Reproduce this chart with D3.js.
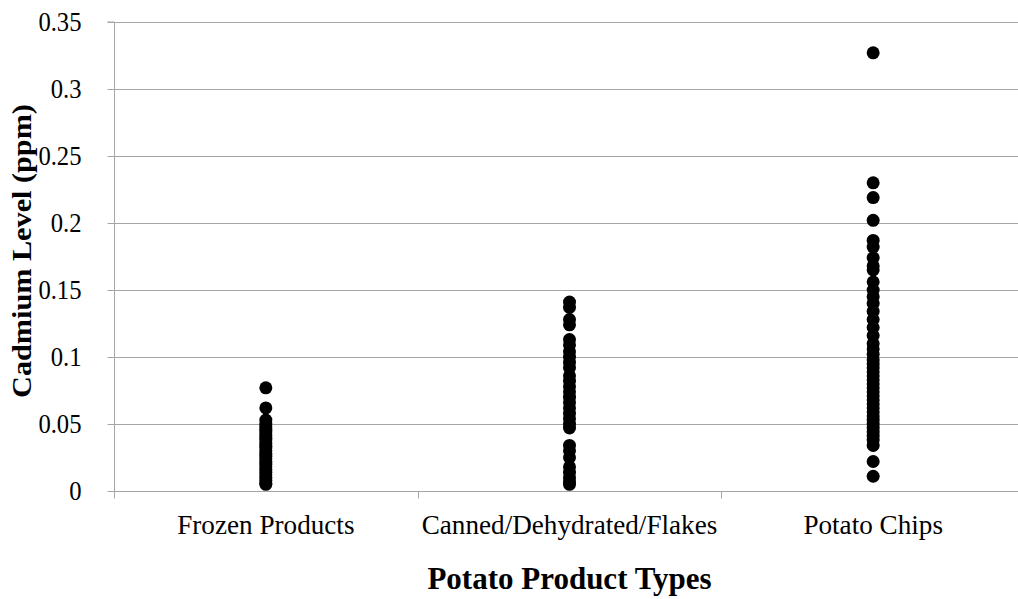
<!DOCTYPE html>
<html>
<head>
<meta charset="utf-8">
<script src="https://cdn.jsdelivr.net/npm/d3@7"></script>
<style>
  html, body { margin: 0; padding: 0; background: #fff; }
  svg { display: block; }
  text { font-family: "Liberation Serif", "Times New Roman", serif; fill: #000; }
</style>
</head>
<body>
<svg id="chart" width="1018" height="599"></svg>
<script>
// Product categories along the x axis
const categories = ["Frozen Products", "Canned/Dehydrated/Flakes", "Potato Chips"];

// Cadmium measurements (ppm) per category
const frozenValues = [0.077, 0.062, 0.053, 0.050, 0.048, 0.046, 0.044, 0.042, 0.040, 0.038,
  0.036, 0.034, 0.032, 0.030, 0.028, 0.026, 0.024, 0.022, 0.020, 0.018, 0.016, 0.014,
  0.012, 0.010, 0.008, 0.006, 0.005];
const cannedValues = [0.141, 0.137, 0.128, 0.124, 0.113, 0.109, 0.104, 0.100, 0.096, 0.092,
  0.086, 0.082, 0.078, 0.074, 0.070, 0.066, 0.062, 0.058, 0.054, 0.050, 0.047, 0.034,
  0.030, 0.025, 0.018, 0.014, 0.010, 0.007, 0.005];
const chipsValues = [0.327, 0.230, 0.219, 0.202, 0.187, 0.182, 0.174, 0.168, 0.165, 0.156,
  0.150, 0.145, 0.140, 0.134, 0.128, 0.122, 0.116, 0.110, 0.106, 0.102, 0.098, 0.095,
  0.092, 0.089, 0.086, 0.083, 0.080, 0.077, 0.074, 0.071, 0.068, 0.065, 0.062, 0.059,
  0.056, 0.053, 0.050, 0.047, 0.044, 0.041, 0.038, 0.034, 0.022, 0.011];

// Y axis tick values and labels
const yTicks = [0, 0.05, 0.1, 0.15, 0.2, 0.25, 0.3, 0.35];
const yTickLabels = ["0", "0.05", "0.1", "0.15", "0.2", "0.25", "0.3", "0.35"];

const seriesValues = [frozenValues, cannedValues, chipsValues];

const svg = d3.select("#chart");
const margin = { left: 114, top: 22, right: -7, bottom: 108 };
const W = 1018, H = 599;
const x0 = margin.left, x1 = W - margin.right;
const y0 = H - margin.bottom, y1 = margin.top;

const x = d3.scaleBand().domain(categories).range([x0, x1]).paddingInner(0).paddingOuter(0);
const y = d3.scaleLinear().domain([0, 0.35]).range([y0, y1]);

const gridColor = "#a6a6a6";
const labelFont = "'Liberation Serif', 'Times New Roman', serif";

// Horizontal gridlines
svg.append("g")
  .selectAll("line")
  .data(yTicks.filter(d => d > 0))
  .join("line")
  .attr("x1", x0).attr("x2", x1)
  .attr("y1", d => Math.round(y(d)) + 0.5).attr("y2", d => Math.round(y(d)) + 0.5)
  .attr("stroke", gridColor).attr("stroke-width", 1);

// Y axis
const yScaleX = 0.88;
const yAxis = d3.axisLeft(y)
  .tickValues(yTicks)
  .tickFormat((d, i) => yTickLabels[i])
  .tickSize(7)
  .tickPadding(26);
const gy = svg.append("g")
  .attr("transform", `translate(${x0 + 0.5},0)`)
  .call(yAxis)
  .attr("font-family", null)
  .attr("font-size", null);
gy.select(".domain").attr("stroke", gridColor).attr("d", `M-7,${y1}H0V${y0}`);
gy.selectAll(".tick line").attr("stroke", gridColor);
gy.selectAll(".tick text")
  .style("font-family", labelFont)
  .style("font-size", "28px")
  .attr("transform", `scale(${yScaleX},1)`)
  .attr("x", -(26 + 7) / yScaleX)
  .attr("fill", "#000");

// X axis with ticks at category boundaries
const xAxis = d3.axisBottom(x).tickSize(0).tickPadding(23);
const gx = svg.append("g")
  .attr("transform", `translate(0,${Math.round(y0) + 0.5})`)
  .call(xAxis)
  .attr("font-family", null)
  .attr("font-size", null);
gx.select(".domain").attr("stroke", gridColor).attr("d", `M${x0},0H${x1}`);
gx.selectAll(".tick text")
  .style("font-family", labelFont)
  .style("font-size", "28px")
  .attr("transform", "scale(0.97,1)")
  .attr("fill", "#000");
gx.append("g")
  .selectAll("line")
  .data(categories)
  .join("line")
  .attr("x1", d => Math.round(x(d)) + 0.5).attr("x2", d => Math.round(x(d)) + 0.5)
  .attr("y1", 0).attr("y2", 7)
  .attr("stroke", gridColor);

// Data points
const points = [];
seriesValues.forEach((vals, i) => vals.forEach(v => points.push({ cat: categories[i], v })));
svg.append("g")
  .selectAll("circle")
  .data(points)
  .join("circle")
  .attr("cx", d => x(d.cat) + x.bandwidth() / 2)
  .attr("cy", d => y(d.v))
  .attr("r", 6.5)
  .attr("fill", "#000");

// Axis titles
svg.append("text")
  .attr("transform", `translate(${(x0 + x1) / 2},589)`)
  .attr("text-anchor", "middle")
  .style("font-family", labelFont)
  .style("font-size", "31px")
  .style("font-weight", "bold")
  .text("Potato Product Types");

svg.append("text")
  .attr("transform", `translate(31,251) rotate(-90) scale(1.08,1)`)
  .attr("text-anchor", "middle")
  .style("font-family", labelFont)
  .style("font-size", "28px")
  .style("font-weight", "bold")
  .text("Cadmium Level (ppm)");
</script>
</body>
</html>
